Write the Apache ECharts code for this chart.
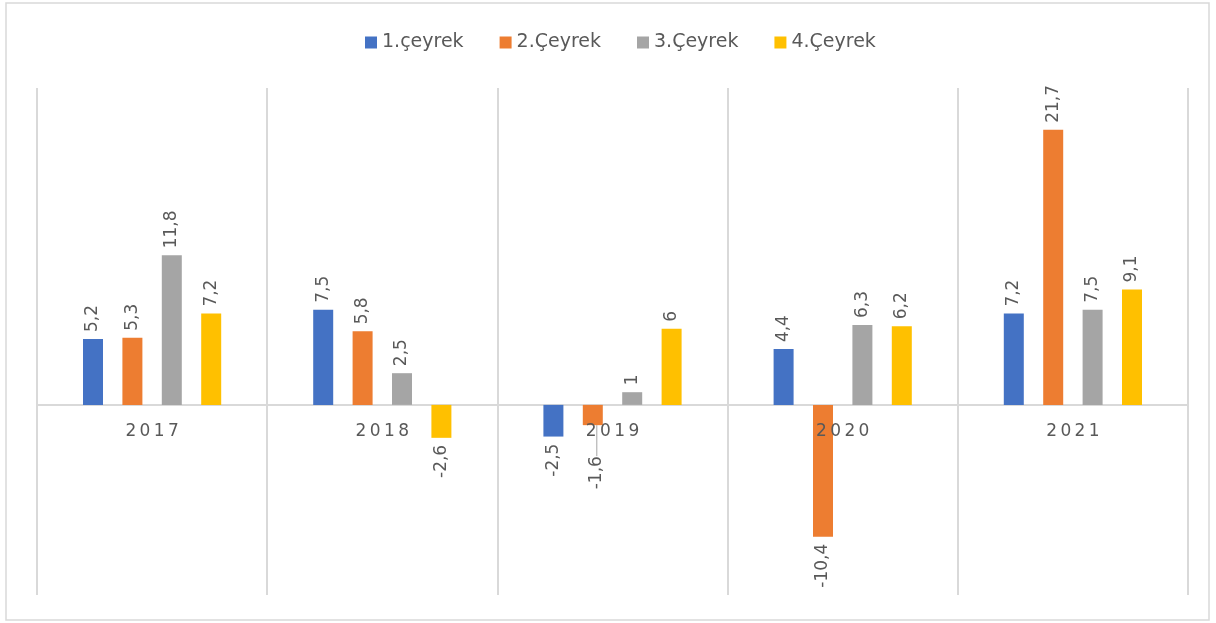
<!DOCTYPE html>
<html>
<head>
<meta charset="utf-8">
<script src="https://cdn.jsdelivr.net/npm/echarts@6/dist/echarts.min.js"></script>
<style>
  html, body { margin: 0; padding: 0; background: #fff; }
  #chart { width: 1216px; height: 623px; }
</style>
</head>
<body>
<div id="chart"></div>
<script>
// veriler
var years = ['2017', '2018', '2019', '2020', '2021'];
var seriesNames = ['1.çeyrek', '2.Çeyrek', '3.Çeyrek', '4.Çeyrek'];
var q1 = [5.2, 7.5, -2.5, 4.4, 7.2];
var q2 = [5.3, 5.8, -1.6, -10.4, 21.7];
var q3 = [11.8, 2.5, 1, 6.3, 7.5];
var q4 = [7.2, -2.6, 6, 6.2, 9.1];
var colors = ['#4472C4', '#ED7D31', '#A5A5A5', '#FFC000'];

(function () {
  var myChart = echarts.init(document.getElementById('chart'));
  var font = "'DejaVu Sans', sans-serif";

  function makeSeries(name, values, idx) {
    return {
      name: name,
      type: 'bar',
      barWidth: 20,
      barGap: '97%',
      data: values.map(function (v, i) {
        var item = {
          value: v,
          label: {
            align: v >= 0 ? 'left' : 'right'
          }
        };
        // 2019 2.Çeyrek etiketi kılavuz çizgili
        if (idx === 1 && i === 2) {
          item.labelLine = {
            show: true,
            lineStyle: { color: '#a6a6a6', width: 1 }
          };
        }
        return item;
      }),
      itemStyle: { color: colors[idx] },
      // çubuk üzerindeki değerler
      label: {
        show: true,
        position: 'outside',
        rotate: 90,
        verticalAlign: 'middle',
        distance: 7,
        color: '#595959',
        fontSize: 17,
        fontFamily: font,
        formatter: function (p) {
          return String(p.value).replace('.', ',');
        }
      }
    };
  }

  var option = {
    animation: false,
    color: colors,
    legend: {
      top: 28,
      left: 360,
      itemWidth: 12,
      itemHeight: 12,
      itemGap: 36,
      icon: 'rect',
      textStyle: { color: '#595959', fontSize: 19, fontFamily: font },
      data: seriesNames
    },
    grid: { left: 37, right: 28, top: 88, bottom: 28, outerBoundsMode: 'none' },
    xAxis: [
      {
        // sıfır çizgisi ve dikey ayırıcılar
        type: 'category',
        data: years,
        axisLine: { onZero: true, lineStyle: { color: '#d9d9d9', width: 2 } },
        axisTick: { show: false },
        axisLabel: { show: false },
        splitLine: { show: true, lineStyle: { color: '#d9d9d9', width: 2 } }
      },
      {
        // yıl etiketleri (sıfır çizgisinin altında)
        type: 'category',
        data: years,
        position: 'bottom',
        offset: -190,
        z: 5,
        axisLine: { show: false, onZero: false },
        axisTick: { show: false },
        splitLine: { show: false },
        axisLabel: {
          color: '#595959',
          fontSize: 17,
          fontFamily: font,
          margin: 18,
          formatter: function (v) { return v.split('').join('\u2009'); }
        }
      }
    ],
    yAxis: {
      type: 'value',
      min: -15,
      max: 25,
      axisLine: { show: false },
      axisTick: { show: false },
      axisLabel: { show: false },
      splitLine: { show: false }
    },
    labelLayout: function (params) {
      if (params.seriesIndex === 1 && params.dataIndex === 2) {
        return {
          x: params.labelRect.x + params.labelRect.width / 2 + 4,
          y: params.labelRect.y + 24
        };
      }
    },
    graphic: [{
      type: 'rect',
      shape: { x: 6, y: 3, width: 1203, height: 617 },
      style: { fill: 'none', stroke: '#d9d9d9', lineWidth: 1.5 },
      silent: true
    }],
    series: [
      makeSeries(seriesNames[0], q1, 0),
      makeSeries(seriesNames[1], q2, 1),
      makeSeries(seriesNames[2], q3, 2),
      makeSeries(seriesNames[3], q4, 3)
    ]
  };

  myChart.setOption(option);
  window.addEventListener('resize', function () {
    myChart.resize();
  });
})();
</script>
</body>
</html>
